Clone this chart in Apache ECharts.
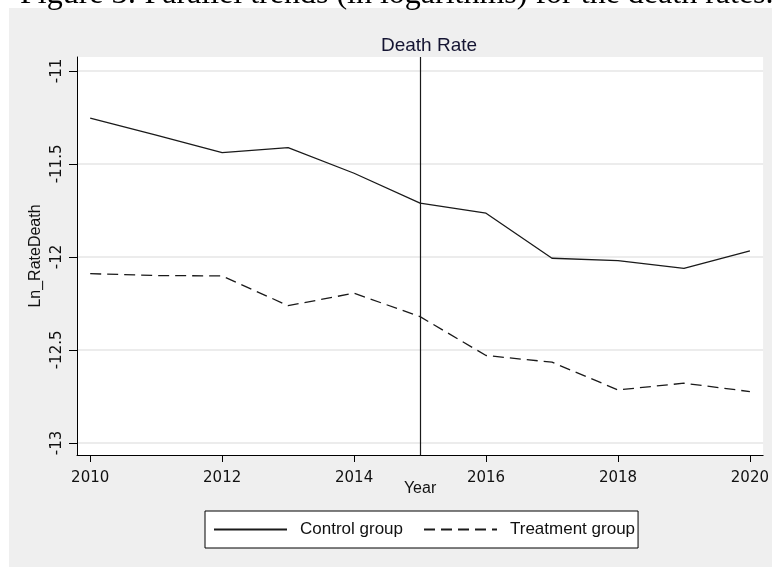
<!DOCTYPE html>
<html>
<head>
<meta charset="utf-8">
<script src="https://cdn.jsdelivr.net/npm/echarts@6/dist/echarts.min.js"></script>
<style>
  html, body { margin: 0; padding: 0; background: #fff; }
  #chart { width: 772px; height: 567px; }
</style>
</head>
<body>
<div id="chart"></div>
<script>
// Log death rates by year for the two groups
const years = [2010, 2011, 2012, 2013, 2014, 2015, 2016, 2017, 2018, 2019, 2020];
const controlGroup = [-11.254, -11.345, -11.439, -11.412, -11.550, -11.711, -11.765, -12.007, -12.020, -12.061, -11.968];
const treatmentGroup = [-12.090, -12.100, -12.102, -12.262, -12.195, -12.321, -12.530, -12.566, -12.715, -12.679, -12.724];

// Tick positions and the policy year marker
const xTicks = [2010, 2012, 2014, 2016, 2018, 2020];
const yTicks = [-13, -12.5, -12, -11.5, -11];
const policyYear = 2015;

const pairs = (vals) => years.map((y, i) => [y, vals[i]]);
const ink = '#111';
const sans = '"Liberation Sans", Arial, sans-serif';

const chart = echarts.init(document.getElementById('chart'), null, { renderer: 'canvas' });

chart.setOption({
  backgroundColor: '#fff',
  animation: false,
  graphic: [
    {
      type: 'rect', z: -10, silent: true,
      shape: { x: 9, y: 8, width: 800, height: 600 },
      style: { fill: '#efefef' }
    },
    {
      type: 'text', silent: true,
      style: {
        text: 'Figure 3: Parallel trends (in logarithms) for the death rates.',
        x: 20, y: -5,
        font: '32px "Liberation Serif", serif',
        fill: '#000',
        textVerticalAlign: 'middle'
      }
    }
  ],
  title: {
    text: 'Death Rate',
    left: 424, top: 31, textAlign: 'center',
    textStyle: { fontFamily: sans, fontSize: 19, fontWeight: 'normal', color: '#141432' }
  },
  grid: {
    left: 77, top: 57, right: 7, bottom: 112,
    show: true, backgroundColor: '#fff', borderWidth: 0
  },
  legend: {
    left: 205, top: 511,
    orient: 'horizontal',
    backgroundColor: '#fff',
    borderColor: '#000', borderWidth: 1,
    padding: [10, 3, 10, 8],
    itemWidth: 73, itemHeight: 14, itemGap: 20,
    itemStyle: { opacity: 0 },
    textStyle: { fontFamily: sans, fontSize: 17, color: ink, padding: [0, 0, 0, 8] },
    data: ['Control group', 'Treatment group']
  },
  xAxis: {
    type: 'value',
    min: 2009.8, max: 2020.2,
    name: 'Year', nameLocation: 'middle', nameGap: 26, nameMoveOverlap: false,
    nameTextStyle: { fontFamily: sans, fontSize: 16, color: ink },
    axisLine: { show: true, onZero: false, lineStyle: { color: '#000', width: 1 } },
    axisTick: { show: true, length: 7, customValues: xTicks, lineStyle: { color: '#000' } },
    axisLabel: {
      customValues: xTicks, margin: 16,
      formatter: (v) => String(v),
      fontFamily: '"DejaVu Sans", sans-serif', fontSize: 15, color: ink
    },
    splitLine: { show: false }
  },
  yAxis: {
    type: 'value',
    min: -13.065, max: -10.925,
    name: 'Ln_RateDeath', nameLocation: 'middle', nameGap: 33, nameRotate: 90, nameMoveOverlap: false,
    nameTextStyle: { fontFamily: sans, fontSize: 16, color: ink },
    axisLine: { show: true, onZero: false, lineStyle: { color: '#000', width: 1 } },
    axisTick: { show: true, length: 8, customValues: yTicks, lineStyle: { color: '#000' } },
    axisLabel: {
      customValues: yTicks, rotate: 90, margin: 12,
      formatter: (v) => String(v),
      fontFamily: '"DejaVu Sans", sans-serif', fontSize: 15, color: ink
    },
    splitLine: { show: true, lineStyle: { color: '#e6e6e6', width: 1.5 } }
  },
  series: [
    {
      name: 'Control group',
      type: 'line',
      data: pairs(controlGroup),
      symbol: 'none',
      lineStyle: { color: '#1a1a1a', width: 1.3, type: 'solid' },
      itemStyle: { color: '#1a1a1a' },
      markLine: {
        silent: true, symbol: 'none',
        label: { show: false },
        lineStyle: { color: '#1a1a1a', width: 1.2, type: 'solid' },
        data: [{ xAxis: policyYear }]
      }
    },
    {
      name: 'Treatment group',
      type: 'line',
      data: pairs(treatmentGroup),
      symbol: 'none',
      lineStyle: { color: '#1a1a1a', width: 1.3, type: [11, 6] },
      itemStyle: { color: '#1a1a1a' }
    }
  ]
});
</script>
</body>
</html>
